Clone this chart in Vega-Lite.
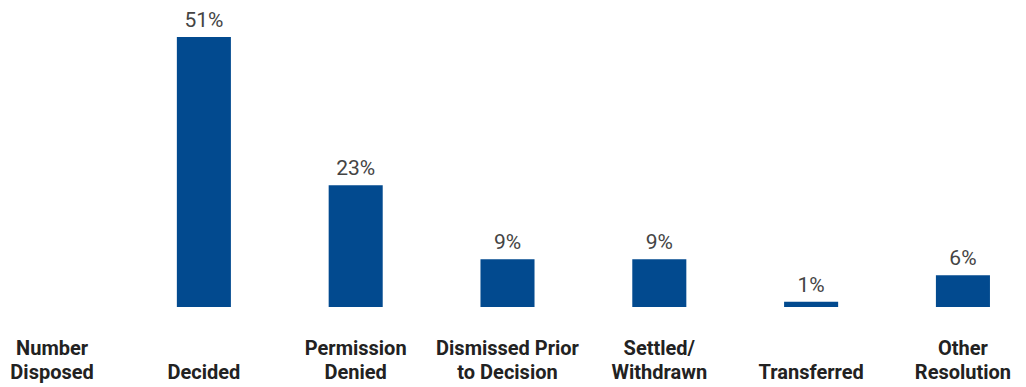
{
  "$schema": "https://vega.github.io/schema/vega-lite/v6.json",
  "width": 1015,
  "height": 307,
  "autosize": {"type": "none"},
  "padding": {"left": 0, "top": 0, "right": 11, "bottom": 80},
  "background": "white",
  "config": {"view": {"stroke": null}, "font": "Roboto"},
  "data": {"values": [
    {"category": "Decided", "share": 0.51},
    {"category": "Permission Denied", "share": 0.23},
    {"category": "Dismissed Prior to Decision", "share": 0.09},
    {"category": "Settled/ Withdrawn", "share": 0.09},
    {"category": "Transferred", "share": 0.01},
    {"category": "Other Resolution", "share": 0.06}
  ]},
  "encoding": {
    "x": {
      "field": "category", "type": "nominal", "sort": null,
      "scale": {
        "domain": ["Number Disposed", "Decided", "Permission Denied", "Dismissed Prior to Decision", "Settled/ Withdrawn", "Transferred", "Other Resolution"],
        "paddingInner": 0.644, "paddingOuter": 0.165
      },
      "axis": {
        "title": null, "domain": false, "ticks": false, "labelAngle": 0,
        "labelExpr": "datum.value == 'Number Disposed' ? ['Number', 'Disposed'] : datum.value == 'Permission Denied' ? ['Permission', 'Denied'] : datum.value == 'Dismissed Prior to Decision' ? ['Dismissed Prior', 'to Decision'] : datum.value == 'Settled/ Withdrawn' ? ['Settled/', 'Withdrawn'] : datum.value == 'Other Resolution' ? ['Other', 'Resolution'] : ['', datum.value]",
        "labelFontSize": 20, "labelFontWeight": "bold", "labelColor": "#222222",
        "labelBaseline": "top", "labelPadding": 31, "labelLineHeight": 24,
        "labelDx": 3, "labelLimit": 0, "labelOverlap": false
      }
    },
    "y": {"field": "share", "type": "quantitative", "scale": {"domain": [0, 0.58]}, "axis": null}
  },
  "layer": [
    {"mark": {"type": "bar", "color": "#024a8f"}},
    {"mark": {"type": "text", "baseline": "alphabetic", "dy": -10, "fontSize": 21, "color": "#444444"},
     "encoding": {"text": {"field": "share", "type": "quantitative", "format": ".0%"}}}
  ]
}
